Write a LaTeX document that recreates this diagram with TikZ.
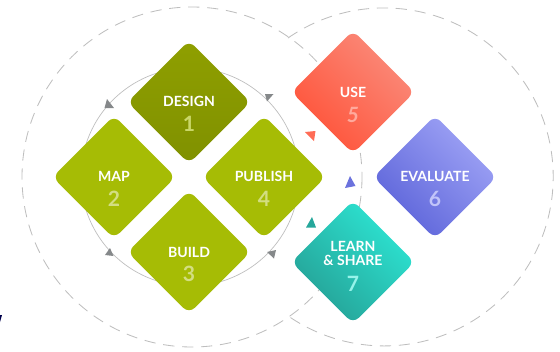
\documentclass[tikz,border=0pt]{standalone}
\usepackage{fontspec}
\setmainfont{Lato}
\usetikzlibrary{shapes.geometric}
\definecolor{leafgreen}{HTML}{A6BC05}
\definecolor{olivetop}{HTML}{8F9F00}
\definecolor{olivelow}{HTML}{809100}
\definecolor{ringgray}{HTML}{BEBEBE}
\definecolor{tipgray}{HTML}{85888A}
\definecolor{usetop}{HTML}{FA8C7C}
\definecolor{uselow}{HTML}{FF5238}
\definecolor{evaltop}{HTML}{A0A4F6}
\definecolor{evallow}{HTML}{5B63D9}
\definecolor{learntop}{HTML}{2DE6D4}
\definecolor{learnlow}{HTML}{25A095}
\tikzset{
    stepbox/.style={diamond,aspect=1,minimum size=3.08cm,inner sep=0pt,rounded corners=0.2cm},
    stepfade/.style 2 args={top color=#1,bottom color=#2,shading angle=-45},
    steptitle/.style={text=white,font=\fontsize{10}{11}\selectfont\bfseries,align=center},
    stepnum/.style={font=\fontsize{15}{15}\selectfont\bfseries},
    dashring/.style={draw=ringgray,line width=0.6pt,dash pattern=on 8pt off 5.5pt},
}
\begin{document}
\begin{tikzpicture}[x=0.025cm,y=-0.025cm]
    \useasboundingbox (0,0) rectangle (560,351);
    % rings behind the steps
    \draw[dashring] (192,177) circle [radius=170];
    \draw[dashring] (288,38) arc [start angle=-124.7,end angle=124.7,radius=169];
    \draw[ringgray,line width=0.5pt] (190,177) circle [radius=109];
    % arrow tips on the inner ring
    \fill[tipgray] (107,99) -- (104.5,108) -- (114,108) -- cycle;
    \fill[tipgray] (265,94) -- (273.5,94) -- (267,101.5) -- cycle;
    \fill[tipgray] (267,252) -- (276,250) -- (274,258.5) -- cycle;
    \fill[tipgray] (110,248) -- (105,255) -- (113.5,256) -- cycle;
    % arrow tips of the second loop
    \fill[uselow!85!white] (305,132) -- (315.5,131) -- (314,141) -- cycle;
    \fill[evallow!90!white] (350,176) -- (355.5,186) -- (345,188) -- cycle;
    \fill[learnlow!90!learntop] (312,217) -- (316,227.5) -- (306,227.5) -- cycle;
    % steps
    \node[stepbox,top color=olivetop,bottom color=olivelow] (design) at (189,102) {};
    \node[stepbox,fill=leafgreen] (map) at (114,177) {};
    \node[stepbox,fill=leafgreen] (build) at (189,252) {};
    \node[stepbox,fill=leafgreen] (publish) at (264,177) {};
    \node[stepbox,stepfade={usetop}{uselow}] (use) at (353,92) {};
    \node[stepbox,stepfade={evaltop}{evallow}] (evaluate) at (435,177) {};
    \node[stepbox,stepfade={learntop}{learnlow}] (learn) at (353,262) {};
    % labels
    \node[steptitle] (designtext) at (189,101) {DESIGN};
    \node[stepnum,text=leafgreen!60!white] (designnum) at (189,124) {1};
    \node[steptitle] (maptext) at (114,176) {MAP};
    \node[stepnum,text=leafgreen!50!white] (mapnum) at (114,199) {2};
    \node[steptitle] (buildtext) at (189,252) {BUILD};
    \node[stepnum,text=leafgreen!50!white] (buildnum) at (189,274) {3};
    \node[steptitle] (publishtext) at (264,176) {PUBLISH};
    \node[stepnum,text=leafgreen!50!white] (publishnum) at (264,199) {4};
    \node[steptitle] (usetext) at (353,92) {USE};
    \node[stepnum,text=uselow!50!white,font=\fontsize{15}{15}\selectfont\bfseries\itshape] (usenum) at (353,115) {5};
    \node[steptitle] (evaluatetext) at (435,176) {EVALUATE};
    \node[stepnum,text=evaltop!65!white] (evaluatenum) at (435,199) {6};
    \node[steptitle] (learntext) at (353,253) {LEARN\\[-1pt]\& SHARE};
    \node[stepnum,text=learntop!50!white] (learnnum) at (353,284) {7};
    \fill[black!70!blue] (0,315) -- (2,315) -- (0,322) -- cycle;
\end{tikzpicture}
\end{document}
